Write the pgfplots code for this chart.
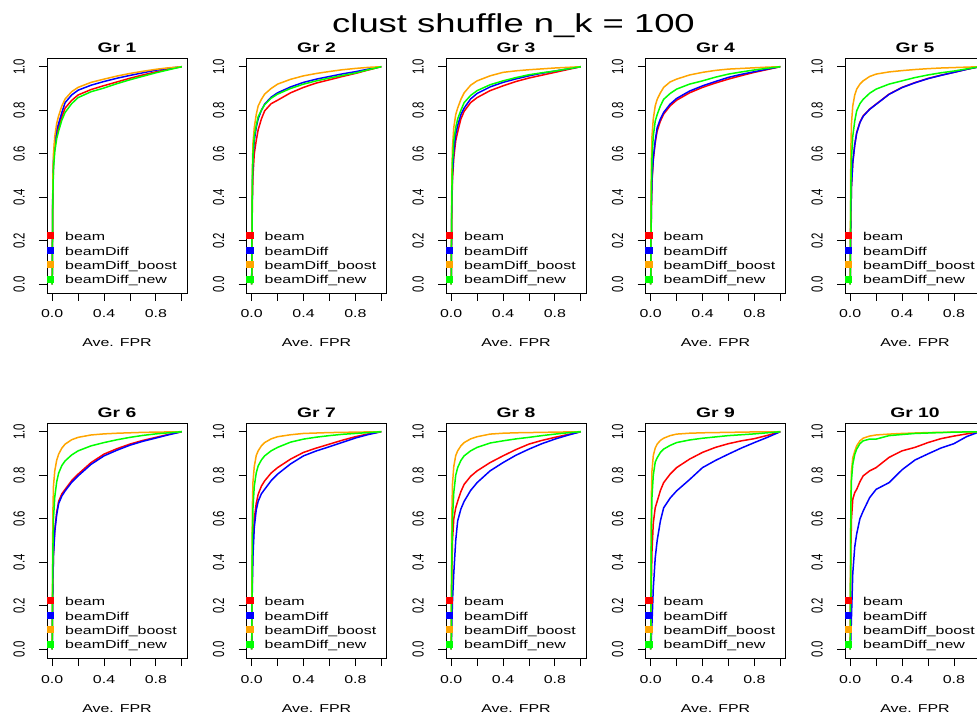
\documentclass[border=0pt]{standalone}
\usepackage{fontspec}
\setmainfont{Liberation Sans}[FakeStretch=1.4]
\newfontfamily\plainfont{Liberation Sans}
\usepackage{graphicx}
\usepackage{pgfplots}
\usepackage{pgfplotstable}
\pgfplotsset{compat=1.18}

\definecolor{cBeam}{RGB}{255,0,0}
\definecolor{cDiff}{RGB}{0,0,255}
\definecolor{cBoost}{RGB}{255,165,0}
\definecolor{cNew}{RGB}{0,255,0}

\newcommand\tickfont{\fontsize{11.4}{13}\selectfont}
% vertical tick labels, read from bottom to top
\newcommand\ylab[1]{\rotatebox{90}{\scalebox{1}[1.4]{#1}}}

% ROC curves: x = average FPR, columns = TPR of each method
\pgfplotstableread{
x beam diff boost new
0 0 0 0 0
0.005 .42 .45 .48 .40
0.01 .55 .57 .60 .53
0.02 .63 .65 .68 .61
0.035 .69 .71 .74 .67
0.05 .72 .74 .775 .705
0.075 .77 .79 .82 .755
0.1 .81 .835 .852 .79
0.15 .845 .87 .885 .83
0.2 .870 .892 .905 .858
0.3 .895 .915 .928 .885
0.4 .913 .932 .943 .902
0.5 .930 .947 .957 .922
0.6 .947 .960 .969 .940
0.7 .962 .972 .979 .956
0.8 .976 .984 .988 .972
0.9 .989 .993 .995 .986
1 1 1 1 1
}\grA
\pgfplotstableread{
x beam diff boost new
0 0 0 0 0
.005 .38 .45 .52 .47
.01 .50 .58 .65 .60
.02 .60 .66 .72 .68
.035 .66 .72 .78 .73
.05 .71 .76 .82 .77
.075 .76 .80 .85 .80
.1 .797 .828 .874 .825
.15 .83 .86 .90 .855
.2 .846 .88 .92 .874
.3 .88 .907 .942 .90
.4 .905 .928 .958 .92
.5 .925 .943 .969 .935
.6 .94 .955 .978 .948
.7 .955 .967 .986 .96
.8 .969 .977 .992 .971
.9 .985 .989 .997 .986
1 1 1 1 1
}\grB
\pgfplotstableread{
x beam diff boost new
0 0 0 0 0
.005 .35 .38 .50 .42
.01 .48 .51 .63 .56
.02 .58 .61 .72 .66
.035 .66 .69 .78 .72
.05 .70 .73 .81 .76
.075 .76 .78 .85 .80
.1 .795 .81 .88 .835
.15 .835 .852 .915 .868
.2 .858 .877 .935 .89
.3 .89 .907 .958 .917
.4 .912 .928 .974 .935
.5 .932 .944 .981 .95
.6 .948 .958 .986 .963
.7 .961 .970 .990 .972
.8 .974 .980 .994 .98
.9 .987 .990 .997 .99
1 1 1 1 1
}\grC
\pgfplotstableread{
x beam diff boost new
0 0 0 0 0
.005 .33 .35 .55 .45
.01 .47 .48 .68 .58
.02 .57 .58 .76 .68
.035 .65 .66 .82 .75
.05 .705 .72 .85 .78
.075 .75 .76 .88 .82
.1 .782 .79 .905 .85
.15 .82 .828 .93 .877
.2 .846 .854 .943 .897
.3 .88 .888 .962 .92
.4 .905 .912 .974 .935
.5 .925 .932 .983 .952
.6 .943 .951 .989 .966
.7 .959 .965 .992 .976
.8 .974 .977 .995 .985
.9 .987 .989 .998 .993
1 1 1 1 1
}\grD
\pgfplotstableread{
x beam diff boost new
0 0 0 0 0
.005 .30 .30 .62 .45
.01 .45 .45 .74 .58
.02 .56 .56 .82 .68
.035 .64 .64 .87 .75
.05 .697 .695 .897 .797
.075 .745 .743 .92 .83
.1 .774 .772 .935 .85
.15 .805 .804 .955 .878
.2 .828 .827 .966 .897
.3 .874 .873 .976 .92
.4 .905 .904 .982 .935
.5 .927 .926 .987 .95
.6 .946 .945 .991 .962
.7 .961 .960 .994 .972
.8 .974 .974 .996 .98
.9 .988 .988 .998 .99
1 1 1 1 1
}\grE
\pgfplotstableread{
x beam diff boost new
0 0 0 0 0
.005 .30 .29 .62 .45
.01 .44 .43 .75 .60
.02 .55 .54 .82 .70
.035 .63 .62 .87 .77
.05 .68 .67 .897 .81
.075 .715 .705 .925 .845
.1 .735 .728 .943 .866
.15 .775 .767 .963 .893
.2 .805 .797 .974 .912
.3 .858 .85 .985 .935
.4 .897 .889 .99 .95
.5 .922 .915 .993 .963
.6 .943 .938 .995 .974
.7 .96 .956 .997 .983
.8 .974 .971 .998 .99
.9 .988 .986 .999 .995
1 1 1 1 1
}\grF
\pgfplotstableread{
x beam diff boost new
0 0 0 0 0
.005 .35 .30 .65 .50
.01 .48 .43 .77 .65
.02 .60 .56 .84 .75
.035 .67 .64 .89 .81
.05 .712 .68 .912 .843
.075 .75 .715 .935 .87
.1 .774 .735 .95 .889
.15 .81 .775 .967 .912
.2 .835 .805 .977 .928
.3 .874 .852 .986 .952
.4 .905 .889 .992 .966
.5 .925 .912 .994 .975
.6 .943 .931 .996 .982
.7 .961 .951 .997 .988
.8 .977 .971 .998 .992
.9 .99 .987 .999 .996
1 1 1 1 1
}\grG
\pgfplotstableread{
x beam diff boost new
0 0 0 0 0
.005 .35 .12 .62 .45
.01 .50 .22 .76 .60
.02 .60 .35 .84 .72
.035 .65 .50 .89 .80
.05 .68 .59 .912 .835
.075 .725 .645 .935 .868
.1 .758 .68 .95 .889
.15 .795 .73 .967 .912
.2 .82 .766 .977 .928
.3 .858 .82 .989 .948
.4 .889 .858 .993 .958
.5 .918 .892 .995 .967
.6 .943 .92 .996 .974
.7 .96 .945 .997 .982
.8 .974 .966 .998 .989
.9 .987 .984 .999 .995
1 1 1 1 1
}\grH
\pgfplotstableread{
x beam diff boost new
0 0 0 0 0
.005 .30 .05 .70 .55
.01 .45 .12 .82 .70
.02 .58 .28 .89 .80
.035 .65 .42 .925 .86
.05 .68 .50 .943 .88
.075 .73 .59 .96 .905
.1 .766 .65 .97 .92
.15 .805 .695 .982 .937
.2 .835 .728 .989 .95
.3 .874 .78 .993 .962
.4 .905 .835 .995 .97
.5 .928 .868 .996 .976
.6 .945 .897 .997 .982
.7 .958 .925 .998 .986
.8 .968 .95 .999 .99
.9 .983 .974 .999 .995
1 1 1 1 1
}\grI
\pgfplotstableread{
x beam diff boost new
0 0 0 0 0
.005 .45 .05 .70 .65
.01 .60 .15 .82 .78
.02 .69 .35 .88 .85
.035 .72 .47 .91 .895
.05 .735 .53 .935 .92
.075 .77 .60 .958 .945
.1 .797 .635 .97 .958
.15 .82 .697 .98 .966
.2 .835 .735 .985 .966
.3 .882 .766 .989 .982
.4 .912 .825 .992 .987
.5 .928 .87 .994 .992
.6 .95 .898 .996 .994
.7 .968 .925 .997 .996
.8 .98 .945 .998 .998
.9 .99 .978 .999 .999
1 1 1 1 1
}\grJ

\tikzset{legtxt/.style={anchor=base west, inner sep=0pt, font=\tickfont}}

\pgfplotsset{
  roc/.style={line width=1.5pt, no marks},
  legsq/.style={only marks, mark=square*, mark size=3pt,
    mark options={line width=0pt, xscale=1.15}},
  rocpanel/.style={
    scale only axis, width=140pt, height=235pt, anchor=south west,
    xmin=-0.04, xmax=1.04, ymin=-0.04, ymax=1.04,
    clip=false,
    axis line style={line width=0.8pt},
    tick align=outside, xtick pos=left, ytick pos=left,
    major tick length=8pt,
    tick style={line width=0.8pt, black},
    xtick={0,0.2,0.4,0.6,0.8,1},
    xticklabels={0.0,,0.4,,0.8,},
    ytick={0,0.2,0.4,0.6,0.8,1},
    yticklabels={\ylab{0.0},\ylab{0.2},\ylab{0.4},\ylab{0.6},\ylab{0.8},\ylab{1.0}},
    xticklabel style={font=\tickfont, anchor=base, yshift=-17pt},
    yticklabel style={font=\plainfont\tickfont, anchor=east, inner sep=0pt, xshift=-14pt},
    xlabel={Ave. FPR},
    xlabel style={font=\tickfont, at={(axis description cs:0.5,0)}, anchor=base, yshift=-54pt},
    every axis title shift=0pt,
    title style={font=\bfseries\fontsize{13.8}{16}\selectfont,
      at={(axis description cs:0.5,1)}, anchor=base, yshift=5pt},
  },
}

\newcommand\rocpanel[4]{%
\begin{axis}[rocpanel, at={(#1,#2)}, title={#3}]
\addplot[roc, cBeam] table[x=x, y=beam] {#4};
\addplot[roc, cDiff] table[x=x, y=diff] {#4};
\addplot[roc, cBoost] table[x=x, y=boost] {#4};
\addplot[roc, cNew] table[x=x, y=new] {#4};
\addplot[legsq, cBeam] coordinates {(-0.013,0.222)};
\addplot[legsq, cDiff] coordinates {(-0.013,0.156)};
\addplot[legsq, cBoost] coordinates {(-0.013,0.090)};
\addplot[legsq, cNew] coordinates {(-0.013,0.024)};
\node[legtxt] at (axis cs:0.099,0.200) {beam};
\node[legtxt] at (axis cs:0.099,0.134) {beamDiff};
\node[legtxt] at (axis cs:0.099,0.068) {beamDiff\_boost};
\node[legtxt] at (axis cs:0.099,0.002) {beamDiff\_new};
\end{axis}}

\begin{document}
\begin{tikzpicture}
\path[use as bounding box] (0,0) rectangle (977pt,715pt);
\clip (0,0) rectangle (977pt,715pt);
\node[font=\fontsize{26}{30}\selectfont, anchor=base] at (513.5pt,682pt) {clust shuffle n\_k = 100};
\rocpanel{47pt}{422pt}{Gr 1}{\grA}
\rocpanel{246.5pt}{422pt}{Gr 2}{\grB}
\rocpanel{446pt}{422pt}{Gr 3}{\grC}
\rocpanel{645.5pt}{422pt}{Gr 4}{\grD}
\rocpanel{845pt}{422pt}{Gr 5}{\grE}
\rocpanel{47pt}{57pt}{Gr 6}{\grF}
\rocpanel{246.5pt}{57pt}{Gr 7}{\grG}
\rocpanel{446pt}{57pt}{Gr 8}{\grH}
\rocpanel{645.5pt}{57pt}{Gr 9}{\grI}
\rocpanel{845pt}{57pt}{Gr 10}{\grJ}
\end{tikzpicture}
\end{document}
